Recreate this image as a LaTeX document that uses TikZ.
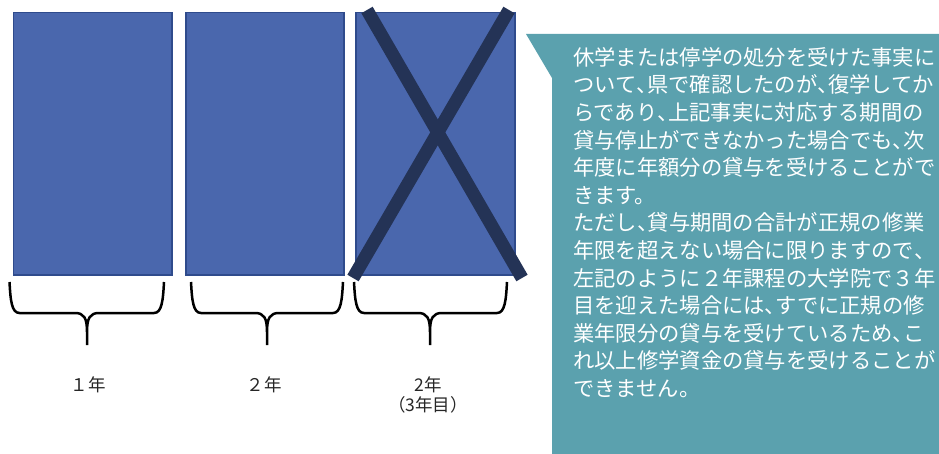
\documentclass[tikz,border=0pt]{standalone}
\usepackage{fontspec}
\newfontfamily\jp{Noto Sans CJK JP}
\definecolor{boxfill}{HTML}{4A67AD}
\definecolor{boxline}{HTML}{2F4B8C}
\definecolor{crossc}{HTML}{243356}
\definecolor{callout}{HTML}{5BA1AE}
\definecolor{labc}{HTML}{262626}
\newcommand\tou{\makebox[0.5em][l]{、}}
\newcommand\ybrace[3]{%
  \draw[bracel] (#1,282) .. controls (#1+1,300) and (#1+2,313) .. (#1+10,313)
    -- (#2-12,313) .. controls (#2-3,313) and (#2,318) .. (#2,332) -- (#2,345)
    (#2,332) .. controls (#2,318) and (#2+3,313) .. (#2+12,313)
    -- (#3-10,313) .. controls (#3-2,313) and (#3-1,300) .. (#3,282);}
\tikzset{
  yearbox/.style={draw=boxline, fill=boxfill, line width=1.5pt, anchor=north west, inner sep=0pt, minimum height=262pt},
  crossline/.style={draw=crossc, line width=13pt, line cap=butt},
  bracel/.style={draw=black, line width=2.5pt},
  lab/.style={text=labc, font=\jp\fontsize{17.5}{20}\selectfont, align=center, inner sep=0pt},
  body/.style={text=white, font=\jp\fontsize{21.3}{27.6}\selectfont, align=left, inner sep=0pt, anchor=north west}
}
\begin{document}
\begin{tikzpicture}[x=1pt,y=-1pt]
\useasboundingbox (0,0) rectangle (939,454);
% year boxes
\node[yearbox, minimum width=158.3pt] (r1) at (12.7,12) {};
\node[yearbox, minimum width=158pt] (r2) at (185,12) {};
\node[yearbox, minimum width=159pt] (r3) at (355,12) {};
% cross
\coordinate (c1) at (367,10);
\coordinate (c2) at (522,278);
\coordinate (c3) at (509,10);
\coordinate (c4) at (353,278);
\draw[crossline] (c1) -- (c2);
\draw[crossline] (c3) -- (c4);
% braces
\ybrace{9.5}{87}{164}
\ybrace{191}{267}{343}
\ybrace{354}{430}{507}
% labels
\node[lab] (l1) at (88,385) {１年};
\node[lab] (l2) at (264,385) {２年};
\node[lab] (l3) at (428,395) {2年\\（3年目）};
% callout
\fill[callout] (526,34) -- (939,34) -- (939,454) -- (552,454) -- (552,78) -- cycle;
\node[body] (t) at (573,47) {休学または停学の処分を受けた事実に\\
ついて\tou 県で確認したのが\tou 復学してか\\
らであり\tou 上記事実に対応する期間の\\
貸与停止ができなかった場合でも\tou 次\\
年度に年額分の貸与を受けることがで\\
きます。\\
ただし\tou 貸与期間の合計が正規の修業\\
年限を超えない場合に限りますので\tou\\
左記のように２年課程の大学院で３年\\
目を迎えた場合には\tou すでに正規の修\\
業年限分の貸与を受けているため\tou こ\\
れ以上修学資金の貸与を受けることが\\
できません。};
\end{tikzpicture}
\end{document}
